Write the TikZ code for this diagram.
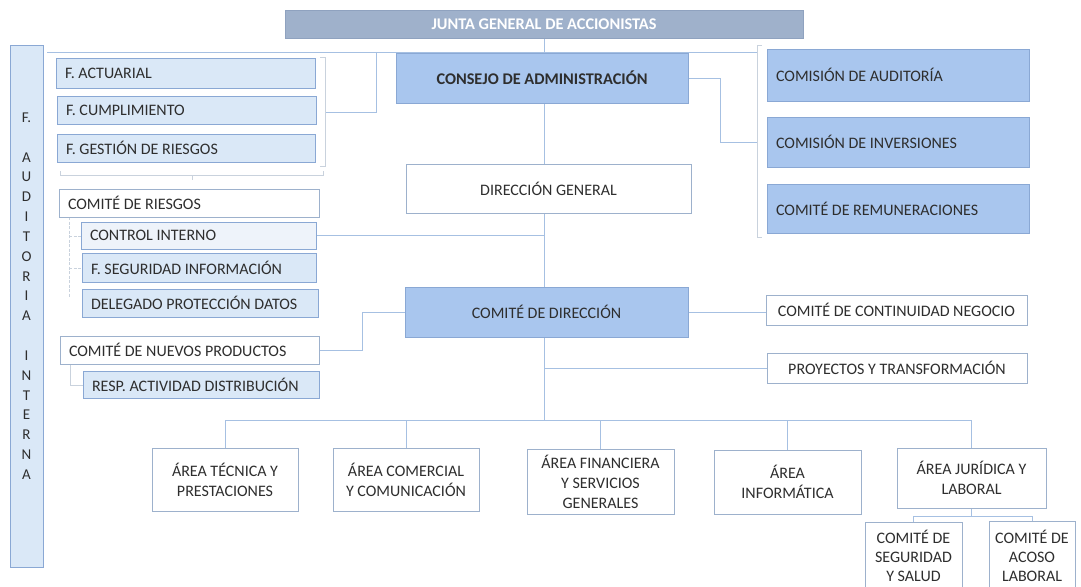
\documentclass[tikz,border=0pt]{standalone}
\usepackage{fontspec}
\setmainfont{Carlito}
\usetikzlibrary{backgrounds}
\definecolor{lncol}{HTML}{A6C0E2}
\definecolor{brkcol}{HTML}{C9D2DD}
\definecolor{bordblue}{HTML}{8AA8D4}
\definecolor{bordwhite}{HTML}{9DB1CC}
\definecolor{fillmid}{HTML}{A9C6EE}
\definecolor{filllt}{HTML}{DAE8F7}
\definecolor{fillctrl}{HTML}{EEF3FA}
\definecolor{fillj}{HTML}{9FB1CB}
\definecolor{bordj}{HTML}{8FA2BF}
\definecolor{txt}{HTML}{2E2E2E}
\newcommand\fsz{\fontsize{16}{20}\selectfont}
\newcommand\obox[7]{%
 \pgfmathsetmacro\bxc{(#2+#4)/2}%
 \pgfmathsetmacro\byc{(#3+#5)/2}%
 \pgfmathsetmacro\bw{#4-#2}%
 \pgfmathsetmacro\bh{#5-#3}%
 \pgfmathsetmacro\btw{#4-#2-18}%
 \node[#6, minimum width=\bw pt, minimum height=\bh pt] (#1) at (\bxc,\byc) {#7};}
\begin{document}
\begin{tikzpicture}[x=1pt,y=-1pt,
  base/.style={rectangle, inner sep=0pt, line width=0.9pt, text=txt, font=\fsz, align=center},
  junta/.style={base, fill=fillj, draw=bordj, text=white, font=\bfseries\fontsize{16.3}{19}\selectfont},
  midb/.style={base, fill=fillmid, draw=bordblue},
  ltb/.style={base, fill=filllt, draw=bordblue},
  ctb/.style={base, fill=fillctrl, draw=bordblue},
  whb/.style={base, fill=white, draw=bordwhite},
  lft/.style={text width=\btw pt, align=flush left, inner xsep=9pt},
  ln/.style={draw=lncol, line width=0.9pt},
  brk/.style={draw=brkcol, line width=0.8pt},
  brkd/.style={draw=brkcol, line width=0.8pt, dash pattern=on 3pt off 1.5pt}]
\useasboundingbox (0,0) rectangle (1081,586);
\clip (0,0) rectangle (1081,586);

% top
\obox{junta}{285}{10}{803}{38}{junta}{JUNTA GENERAL DE ACCIONISTAS}
\obox{consejo}{396}{53}{688}{103}{midb,font=\bfseries\fontsize{16.3}{20}\selectfont}{CONSEJO DE ADMINISTRACIÓN}
\obox{dirgen}{406}{164}{691}{213}{whb}{DIRECCIÓN GENERAL}
\obox{comdir}{405}{287}{688}{337}{midb}{COMITÉ DE DIRECCIÓN}

% right column
\obox{caud}{767}{49}{1029}{101}{midb,lft}{COMISIÓN DE AUDITORÍA}
\obox{cinv}{767}{117}{1029}{167}{midb,lft}{COMISIÓN DE INVERSIONES}
\obox{crem}{767}{184}{1029}{233}{midb,lft}{COMITÉ DE REMUNERACIONES}
\obox{ccn}{766}{295}{1027}{325}{whb}{COMITÉ DE CONTINUIDAD NEGOCIO}
\obox{proy}{767}{353}{1027}{383}{whb}{PROYECTOS Y TRANSFORMACIÓN}

% left column
\obox{audit}{10}{45}{43}{567}{ltb,font=\fontsize{15}{19.83}\selectfont}{F.\\\mbox{}\\A\\U\\D\\I\\T\\O\\R\\I\\A\\\mbox{}\\I\\N\\T\\E\\R\\N\\A\\\mbox{}}
\obox{fact}{56}{58}{315}{88}{ltb,lft}{F. ACTUARIAL}
\obox{fcum}{57}{96}{316}{124}{ltb,lft}{F. CUMPLIMIENTO}
\obox{fges}{57}{134}{315}{162}{ltb,lft}{F. GESTIÓN DE RIESGOS}
\obox{cries}{59}{189}{319}{217}{whb,lft}{COMITÉ DE RIESGOS}
\obox{ctrl}{81}{222}{316}{249}{ctb,lft}{CONTROL INTERNO}
\obox{fseg}{82}{253}{316}{282}{ltb,lft}{F. SEGURIDAD INFORMACIÓN}
\obox{deleg}{82}{289}{318}{317}{ltb,lft}{DELEGADO PROTECCIÓN DATOS}
\obox{nuev}{60}{336}{319}{364}{whb,lft}{COMITÉ DE NUEVOS PRODUCTOS}
\obox{resp}{83}{371}{319}{398}{ltb,lft}{RESP. ACTIVIDAD DISTRIBUCIÓN}

% bottom
\obox{tec}{152}{448}{298}{511}{whb}{ÁREA TÉCNICA Y\\PRESTACIONES}
\obox{com}{333}{448}{479}{511}{whb}{ÁREA COMERCIAL\\Y COMUNICACIÓN}
\obox{fin}{527}{449}{674}{514}{whb}{ÁREA FINANCIERA\\Y SERVICIOS\\GENERALES}
\obox{inf}{714}{450}{861}{514}{whb}{ÁREA\\INFORMÁTICA}
\obox{jur}{897}{448}{1046}{508}{whb}{ÁREA JURÍDICA Y\\LABORAL}
\obox{seg}{865}{522}{962}{590}{whb,font=\fontsize{16}{19}\selectfont}{COMITÉ DE\\SEGURIDAD\\Y SALUD}
\obox{aco}{989}{521}{1075}{590}{whb,font=\fontsize{16}{19}\selectfont}{COMITÉ DE\\ACOSO\\LABORAL}

\coordinate (mx) at (544,0);
\coordinate (tl) at (47,52);
\coordinate (tr) at (757,52);
\coordinate (tj) at (376,52);
\coordinate (fb) at (325,112);
\coordinate (cb) at (757,142);
\coordinate (bar) at (544,420);
\coordinate (sb) at (0,516);

\begin{scope}[on background layer]
\draw[ln] (junta.south -| mx) -- (consejo.north -| mx);
\draw[ln] (tl) -- (tr);
\draw[ln] (tj) |- (fb);
\draw[ln] (consejo.east) -- ++(32,0) |- (cb);
\draw[ln] (consejo.south -| mx) -- (dirgen.north -| mx);
\draw[ln] (dirgen.south -| mx) -- (comdir.north -| mx);
\draw[ln] (ctrl.east) -- (ctrl.east -| mx);
\draw[ln] (nuev.east) -- ++(43,0) |- (comdir.west);
\draw[ln] (comdir.east) -- (comdir.east -| ccn.west);
\draw[ln] (proy.west -| mx) -- (proy.west);
\draw[ln] (comdir.south -| mx) -- (bar);
\draw[ln] (tec.north) -- (tec.north |- bar) -- (jur.north |- bar) -- (jur.north);
\draw[ln] (com.north) -- (com.north |- bar);
\draw[ln] (fin.north) -- (fin.north |- bar);
\draw[ln] (inf.north) -- (inf.north |- bar);
\draw[ln] (jur.south) -- (jur.south |- sb);
\draw[ln] (seg.north) -- (seg.north |- sb) -- (aco.north |- sb) -- (aco.north);
% group brackets
\draw[brk] (320,57) -- (325,57) -- (325,166) -- (320,166);
\draw[brk] (60,171) -- (60,175) -- (323,175) -- (323,171);
\draw[brk] (192,175) -- (192,180);
\draw[brk] (762,45) -- (757,45) -- (757,237) -- (762,237);
\draw[brkd] (69,217) -- (69,298);
\draw[brkd] (69,236) -- (81,236);
\draw[brkd] (69,268) -- (82,268);
\draw[brk] (70,364) -- (70,385) -- (83,385);
\end{scope}
\end{tikzpicture}
\end{document}
